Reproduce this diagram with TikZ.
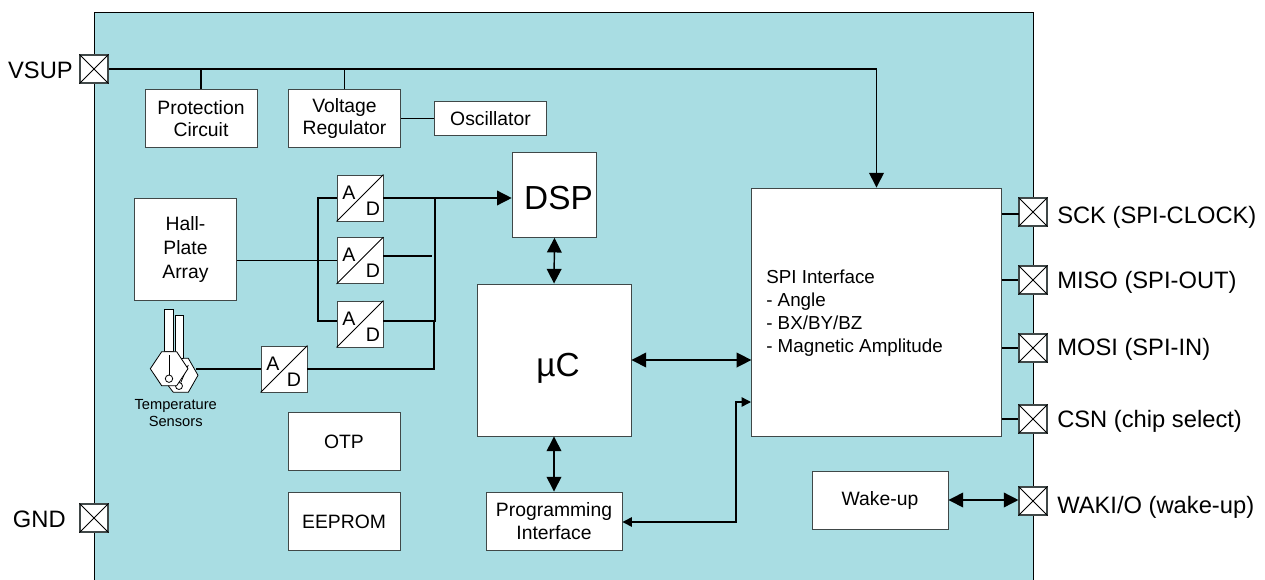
\documentclass[tikz,border=0pt]{standalone}
\usepackage{fontspec}
\setmainfont{Liberation Sans}
\usetikzlibrary{arrows.meta}
\definecolor{chipbg}{HTML}{A9DDE3}
\definecolor{boxline}{HTML}{404848}
\begin{document}
\begin{tikzpicture}[
        x=0.75pt, y=-0.75pt,
        block/.style={draw=boxline, fill=white, line width=0.7pt, inner sep=0pt, align=center, font=\fontsize{14.5}{17}\selectfont},
        bigtext/.style={inner sep=0pt, font=\fontsize{25}{30}\selectfont},
        adc/.style={draw=boxline, fill=white, line width=0.7pt, minimum size=34.5pt, inner sep=0pt},
        adcletter/.style={inner sep=0pt, font=\fontsize{14.7}{17}\selectfont},
        pad/.style={draw=boxline, fill=white, line width=0.8pt, minimum size=21pt, inner sep=0pt},
        padlabel/.style={font=\fontsize{17.8}{21}\selectfont, inner sep=0pt},
        wire/.style={line width=1.1pt},
        bigtip/.style={{Triangle[length=11pt,width=11pt]}-{Triangle[length=11pt,width=11pt]}},
    ]
    \useasboundingbox (0,0) rectangle (1265,579);
    \fill[chipbg] (94,12) rectangle (1033,590);
    \draw[black, line width=0.7pt] (94,590) -- (94,12) -- (1033,12) -- (1033,590);

    % blocks
    \node[block, minimum width=84pt, minimum height=43pt] (protection) at (201,118.5) {Protection\\Circuit};
    \node[block, minimum width=84pt, minimum height=43pt] (regulator) at (344.5,118.5) {Voltage\\Regulator};
    \node[block, minimum width=84.5pt, minimum height=25pt] (oscillator) at (490.5,118.5) {Oscillator};
    \node[block, minimum width=63.5pt, minimum height=63.5pt] (dsp) at (554.5,195) {};
    \node[bigtext] (dsptext) at (558.5,198) {DSP};
    \node[block, minimum width=77pt, minimum height=76.5pt, font=\fontsize{14.5}{18}\selectfont] (hall) at (185.5,249) {Hall-\\Plate\\Array};
    \node[block, minimum width=115.5pt, minimum height=114pt] (uc) at (554,360) {};
    \node[bigtext] (uctext) at (558,368) {µC};
    \node[block, minimum width=187pt, minimum height=186pt] (spi) at (876.5,312) {};
    \node[inner sep=0pt, align=left, anchor=west, font=\fontsize{14.1}{17.3}\selectfont] (spitext) at (766,313.5) {SPI Interface\\- Angle\\- BX/BY/BZ\\- Magnetic Amplitude};
    \node[block, minimum width=84pt, minimum height=43pt] (otp) at (344,441.5) {OTP};
    \node[block, minimum width=84pt, minimum height=43pt] (eeprom) at (344,521.5) {EEPROM};
    \node[block, minimum width=102pt, minimum height=43.5pt] (prog) at (554,521) {Programming\\Interface};
    \node[block, minimum width=102pt, minimum height=43.5pt] (wakeup) at (880,500) {Wake-up};

    % converters
    \foreach \name/\px/\py/\dx in {adone/360/198/13, adtwo/360/260.5/13, adthree/360/324/13, adtemp/284/369/10} {
        \node[adc] (\name) at (\px,\py) {};
        \draw[line width=0.6pt] (\name.south west) -- (\name.north east);
        \node[adcletter] (\name a) at (\px-11,\py-5.5) {A};
        \node[adcletter] (\name d) at (\px+\dx,\py+10.5) {D};
    }

    % pads
    \foreach \name/\px/\py in {vsup/94/69, gnd/94/518, sck/1033/212, miso/1033/280, mosi/1033/348, csn/1033/419, waki/1033/501} {
        \node[pad] (\name) at (\px,\py) {};
        \draw[line width=0.7pt] (\name.north west) -- (\name.south east) (\name.south west) -- (\name.north east);
    }
    \node[padlabel, anchor=east] (vsuplabel) at (73,70) {VSUP};
    \node[padlabel, anchor=east] (gndlabel) at (66,519) {GND};
    \node[padlabel, anchor=west] (scklabel) at (1057,217) {SCK (SPI-CLOCK)};
    \node[padlabel, anchor=west] (misolabel) at (1057,282) {MISO (SPI-OUT)};
    \node[padlabel, anchor=west] (mosilabel) at (1057,349) {MOSI (SPI-IN)};
    \node[padlabel, anchor=west] (csnlabel) at (1057,421) {CSN (chip select)};
    \node[padlabel, anchor=west] (wakilabel) at (1057,507) {WAKI/O (wake-up)};

    % temperature sensors
    \begin{scope}[draw=black, fill=white, line width=0.6pt]
        \filldraw (175.7,315.7) rectangle (183.3,358.3);
        \filldraw (183.3,358.3) -- (188.3,358.3) -- (198,375.3) -- (188.3,392.3) -- (173.3,392.3) -- (168.3,385.7) -- (175,360) -- cycle;
        \draw (188.3,365) -- (180.7,382.7);
        \filldraw (179,386) circle (3.5);
        \filldraw (164.7,309.3) rectangle (173.3,351.7);
        \filldraw (150.3,368.7) -- (161.7,351.7) -- (176.7,351.7) -- (188,368.7) -- (176.7,385.7) -- (161.7,385.7) -- cycle;
        \draw (169,355) -- (169,375);
        \filldraw (169,378.7) circle (3.7);
    \end{scope}
    \node[inner sep=0pt, align=center, font=\fontsize{11}{12.2}\selectfont] (templabel) at (175.7,413) {Temperature\\Sensors};
    \coordinate (tempout) at (196,369);

    % supply
    \coordinate (protectiontap) at (protection.north |- vsup);
    \coordinate (regulatortap) at (regulator.north |- vsup);
    \draw[wire, -{Triangle[length=11pt,width=11pt]}] (vsup.east) -| (spi.north);
    \draw[wire] (protection.north) -- (protectiontap);
    \draw[wire] (regulator.north) -- (regulatortap);
    \draw[wire] (regulator.east |- oscillator.west) -- (oscillator.west);

    % sensor paths
    \coordinate (busleft) at (318,260.5);
    \coordinate (busright) at (435,198);
    \coordinate (busmid) at (432,256);
    \coordinate (busend) at (434,321);
    \draw[wire] (hall.east |- adtwo.west) -- (adtwo.west);
    \draw[wire] (adone.west) -| (busleft) |- (adthree.west |- busend);
    \draw[wire, -{Triangle[length=11pt,width=11pt]}] (adone.east) -- (dsp.west |- adone.east);
    \draw[wire] (adtwo.east |- busmid) -- (busmid);
    \draw[wire] (busright) -- (busright |- busend) -- (adthree.east |- busend);
    \draw[wire] (busend) -- (busend |- adtemp.east) -- (adtemp.east);
    \draw[wire] (tempout) -- (adtemp.west);

    % data paths
    \draw[wire, bigtip] (dsp.south) -- (uc.north);
    \draw[wire, bigtip] (uc.south) -- (prog.north);
    \draw[wire, bigtip] (uc.east) -- (spi.west |- uc.east);
    \draw[wire, bigtip] (wakeup.east) -- (waki.west |- wakeup.east);
    \coordinate (progcorner) at (736,522);
    \draw[wire, {Triangle[length=7pt,width=7pt]}-{Triangle[length=7pt,width=7pt]}] (prog.east |- progcorner) -- (progcorner) |- (751,402);

    % pins on the interface
    \coordinate (sckin) at (1019,214);
    \foreach \name in {sckin, miso.west, mosi.west, csn.west} {
        \draw[wire] (spi.east |- \name) -- (\name);
    }
\end{tikzpicture}
\end{document}
